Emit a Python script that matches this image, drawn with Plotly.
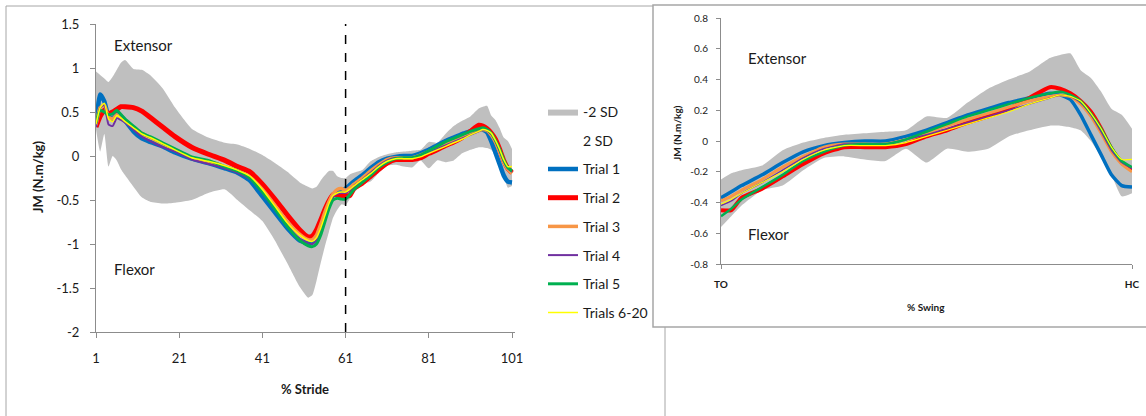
import plotly.graph_objects as go

# ---------------- DATA ----------------
# Stance phase (% stride 1..60)
stance_x = [1, 2, 3, 4, 5, 6, 7, 8, 10, 12, 14, 17, 20, 24, 28, 32, 35, 38, 41, 44, 47, 50, 52, 53, 54, 55, 56, 57, 58, 59, 60]
stance_t1 = [0.33, 0.70, 0.62, 0.45, 0.42, 0.49, 0.45, 0.40, 0.28, 0.20, 0.16, 0.11, 0.04, -0.03, -0.08, -0.14, -0.19, -0.28, -0.46, -0.64, -0.82, -0.96, -0.99, -0.98, -0.92, -0.78, -0.65, -0.53, -0.44, -0.41, -0.40]
stance_t2 = [0.33, 0.45, 0.52, 0.48, 0.50, 0.53, 0.56, 0.56, 0.55, 0.51, 0.44, 0.33, 0.22, 0.10, 0.02, -0.05, -0.12, -0.18, -0.32, -0.49, -0.67, -0.84, -0.92, -0.91, -0.84, -0.73, -0.61, -0.51, -0.44, -0.44, -0.46]
stance_t3 = [0.35, 0.55, 0.58, 0.44, 0.42, 0.47, 0.44, 0.40, 0.32, 0.26, 0.21, 0.14, 0.07, -0.02, -0.06, -0.12, -0.17, -0.24, -0.38, -0.56, -0.75, -0.89, -0.95, -0.95, -0.90, -0.78, -0.64, -0.52, -0.43, -0.38, -0.37]
stance_t4 = [0.33, 0.55, 0.58, 0.36, 0.34, 0.43, 0.41, 0.38, 0.30, 0.22, 0.17, 0.10, 0.05, -0.04, -0.09, -0.14, -0.19, -0.26, -0.42, -0.61, -0.80, -0.94, -0.99, -1.00, -0.96, -0.84, -0.70, -0.56, -0.46, -0.43, -0.42]
stance_t5 = [0.38, 0.52, 0.50, 0.47, 0.48, 0.52, 0.47, 0.42, 0.34, 0.26, 0.22, 0.15, 0.08, -0.01, -0.05, -0.12, -0.17, -0.25, -0.41, -0.60, -0.80, -0.96, -1.02, -1.03, -1.00, -0.90, -0.75, -0.60, -0.50, -0.48, -0.49]
stance_t6 = [0.36, 0.55, 0.60, 0.42, 0.39, 0.46, 0.43, 0.39, 0.32, 0.25, 0.21, 0.14, 0.07, -0.02, -0.06, -0.11, -0.16, -0.23, -0.38, -0.57, -0.76, -0.90, -0.96, -0.97, -0.93, -0.82, -0.68, -0.54, -0.45, -0.42, -0.41]
stance_upper = [0.96, 0.92, 0.88, 0.84, 0.90, 0.98, 1.06, 1.09, 0.99, 0.98, 0.92, 0.77, 0.55, 0.31, 0.21, 0.15, 0.13, 0.08, 0.01, -0.08, -0.18, -0.30, -0.35, -0.37, -0.35, -0.28, -0.22, -0.17, -0.17, -0.23, -0.25]
stance_lower = [0.30, 0.05, 0.25, -0.12, 0.00, -0.05, -0.15, -0.22, -0.35, -0.47, -0.52, -0.54, -0.53, -0.50, -0.42, -0.38, -0.50, -0.62, -0.74, -0.96, -1.22, -1.49, -1.61, -1.58, -1.42, -1.22, -1.03, -0.86, -0.70, -0.61, -0.55]

# Swing phase (% stride 61..101, toe-off to heel contact)
swing_x = [61, 62, 63, 65, 67, 69, 71, 73, 75, 77, 79, 81, 83, 85, 87, 89, 91, 93, 94, 95, 96, 97, 98, 99, 100, 101]
swing_t1 = [-0.37, -0.33, -0.29, -0.22, -0.14, -0.07, -0.03, -0.01, 0.00, 0.00, 0.03, 0.07, 0.12, 0.17, 0.21, 0.25, 0.28, 0.31, 0.30, 0.27, 0.17, 0.04, -0.09, -0.22, -0.29, -0.30]
swing_t2 = [-0.45, -0.45, -0.37, -0.31, -0.23, -0.15, -0.08, -0.04, -0.04, -0.04, -0.02, 0.03, 0.07, 0.12, 0.16, 0.21, 0.28, 0.35, 0.34, 0.31, 0.26, 0.19, 0.08, -0.05, -0.14, -0.19]
swing_t3 = [-0.39, -0.36, -0.32, -0.25, -0.17, -0.10, -0.04, -0.02, -0.02, -0.02, 0.01, 0.05, 0.10, 0.14, 0.18, 0.22, 0.26, 0.29, 0.30, 0.29, 0.24, 0.16, 0.05, -0.07, -0.15, -0.20]
swing_t4 = [-0.42, -0.39, -0.34, -0.27, -0.19, -0.11, -0.05, -0.02, -0.02, -0.02, 0.01, 0.04, 0.08, 0.12, 0.16, 0.20, 0.24, 0.28, 0.30, 0.29, 0.25, 0.17, 0.06, -0.06, -0.14, -0.18]
swing_t5 = [-0.49, -0.44, -0.38, -0.30, -0.22, -0.13, -0.07, -0.03, -0.02, -0.02, 0.01, 0.06, 0.11, 0.16, 0.20, 0.24, 0.28, 0.31, 0.32, 0.30, 0.26, 0.18, 0.08, -0.04, -0.13, -0.17]
swing_t6 = [-0.41, -0.38, -0.34, -0.27, -0.20, -0.12, -0.06, -0.03, -0.03, -0.03, -0.01, 0.03, 0.07, 0.11, 0.15, 0.19, 0.24, 0.28, 0.30, 0.29, 0.26, 0.18, 0.08, -0.04, -0.12, -0.12]
swing_upper = [-0.25, -0.21, -0.19, -0.16, -0.06, -0.01, 0.02, 0.04, 0.05, 0.06, 0.07, 0.16, 0.15, 0.25, 0.34, 0.40, 0.45, 0.54, 0.56, 0.57, 0.46, 0.41, 0.32, 0.21, 0.17, 0.08]
swing_lower = [-0.56, -0.49, -0.42, -0.32, -0.29, -0.19, -0.11, -0.10, -0.12, -0.13, -0.05, -0.14, -0.05, -0.07, -0.05, 0.03, 0.07, 0.10, 0.10, 0.09, 0.07, 0.00, -0.10, -0.22, -0.36, -0.34]

trial_names = ["Trial 1", "Trial 2", "Trial 3", "Trial 4", "Trial 5", "Trials 6-20"]
band_names = ["-2 SD", "2 SD"]
toe_off = 61

left_xticks = [1, 21, 41, 61, 81, 101]
left_yticks = [-2, -1.5, -1, -0.5, 0, 0.5, 1, 1.5]
left_yticktext = ["-2", "-1.5", "-1", "-0.5", "0", "0.5", "1", "1.5"]
right_xticks = [61, 101]
right_xticktext = ["TO", "HC"]
right_yticks = [-0.8, -0.6, -0.4, -0.2, 0, 0.2, 0.4, 0.6, 0.8]
right_yticktext = ["-0.8", "-0.6", "-0.4", "-0.2", "0", "0.2", "0.4", "0.6", "0.8"]

# ---------------- STYLE ----------------
W, H = 1146, 416
FONT = "Lato"
TXT = "#1a1a1a"
AXC = "#8c8c8c"
BAND = "#BFBFBF"
colors = ["#0070C0", "#FF0000", "#F79646", "#7030A0", "#00B050", "#FFFF00"]
widths_left = [4.5, 5, 3.5, 2, 3, 1.5]
widths_right = [3.5, 4, 3, 1.5, 2.5, 1.2]


def pxx(x):
    return x / W


def pyy(y):
    return 1 - y / H


stance_trials = [stance_t1, stance_t2, stance_t3, stance_t4, stance_t5, stance_t6]
swing_trials = [swing_t1, swing_t2, swing_t3, swing_t4, swing_t5, swing_t6]

fig = go.Figure()


def add_set(xvals, lower, upper, trials, xa, ya, widths, show):
    fig.add_trace(go.Scatter(
        x=xvals, y=lower, mode="lines", xaxis=xa, yaxis=ya,
        line=dict(width=0, color="rgba(0,0,0,0)", shape="spline", smoothing=0.5),
        name=band_names[1], legendgroup="b2", legendrank=2, showlegend=show, hoverinfo="skip"))
    fig.add_trace(go.Scatter(
        x=xvals, y=upper, mode="lines", xaxis=xa, yaxis=ya, fill="tonexty", fillcolor=BAND,
        line=dict(width=0, color=BAND, shape="spline", smoothing=0.5),
        name=band_names[0], legendgroup="b1", legendrank=1, showlegend=show, hoverinfo="skip"))
    for i, (nm, ys) in enumerate(zip(trial_names, trials)):
        fig.add_trace(go.Scatter(
            x=xvals, y=ys, mode="lines", xaxis=xa, yaxis=ya,
            line=dict(width=widths[i], color=colors[i], shape="spline", smoothing=0.5),
            name=nm, legendgroup="t%d" % i, legendrank=3 + i, showlegend=show))


# Left chart: whole stride
all_x = stance_x + swing_x
add_set(all_x, stance_lower + swing_lower, stance_upper + swing_upper,
        [a + b for a, b in zip(stance_trials, swing_trials)], "x", "y", widths_left, True)
# Right chart: swing only
add_set(swing_x, swing_lower, swing_upper, swing_trials, "x2", "y2", widths_right, False)

tick_font_l = dict(family=FONT, size=13, color=TXT)
tick_font_r = dict(family=FONT, size=10, color=TXT)

common = dict(ticks="outside", tickcolor=AXC, showline=True, linecolor=AXC, linewidth=1,
              showgrid=False, zeroline=False, automargin=False, tickmode="array")

fig.update_layout(
    width=W, height=H, margin=dict(l=0, r=0, t=0, b=0, autoexpand=False),
    paper_bgcolor="white", plot_bgcolor="rgba(0,0,0,0)",
    font=dict(family=FONT, color=TXT),
    showlegend=True,
    legend=dict(x=pxx(543), y=pyy(96), xanchor="left", yanchor="top",
                traceorder="grouped", tracegroupgap=7.5, itemwidth=30,
                font=dict(family=FONT, size=14, color=TXT), bgcolor="rgba(0,0,0,0)"),
    xaxis=dict(domain=[pxx(96), pxx(515)], range=[1, 101.72], anchor="y",
               tickvals=left_xticks, ticklen=5,
               tickfont=tick_font_l, ticklabelstandoff=9, **common),
    yaxis=dict(domain=[pyy(332), pyy(24)], range=[-2, 1.5], anchor="x",
               tickvals=left_yticks, ticktext=left_yticktext, ticklen=5,
               tickfont=tick_font_l, ticklabelstandoff=8, **common),
    xaxis2=dict(domain=[pxx(721), pxx(1132)], range=[61, 101], anchor="y2",
                tickvals=right_xticks, ticktext=right_xticktext, ticklen=4,
                tickfont=dict(family=FONT, size=10, color=TXT, weight="bold"), ticklabelstandoff=7,
                **common),
    yaxis2=dict(domain=[pyy(264), pyy(18)], range=[-0.8, 0.8], anchor="x2",
                tickvals=right_yticks, ticktext=right_yticktext, ticklen=4,
                tickfont=tick_font_r, ticklabelstandoff=6, **common),
)

shapes = [
    # left chart frame
    dict(type="rect", xref="paper", yref="paper", x0=pxx(6), x1=pxx(665), y0=pyy(430), y1=pyy(6),
         line=dict(color="#a6a6a6", width=1), fillcolor="rgba(0,0,0,0)", layer="below"),
    # inset frame (covers left frame)
    dict(type="rect", xref="paper", yref="paper", x0=pxx(653), x1=pxx(1160), y0=pyy(327), y1=pyy(5),
         line=dict(color="#a6a6a6", width=1.5), fillcolor="white", layer="below"),
    # toe-off dashed line
    dict(type="line", xref="x", yref="y", x0=toe_off, x1=toe_off, y0=-2, y1=1.5,
         line=dict(color="black", width=1.5, dash="dash")),
]
fig.update_layout(shapes=shapes)

ann = []


def txt(x, y, s, size, bold=False, angle=0, xanchor="left"):
    ann.append(dict(xref="paper", yref="paper", x=pxx(x), y=pyy(y), text=s, showarrow=False,
                    xanchor=xanchor, yanchor="middle", textangle=angle,
                    font=dict(family=FONT, size=size, color=TXT, weight="bold" if bold else "normal")))


txt(112, 45, "Extensor", 15)
txt(112, 269, "Flexor", 15)
txt(305, 389, "% Stride", 13, bold=True, xanchor="center")
txt(38, 177, "JM (N.m/kg)", 13, bold=True, angle=-90, xanchor="center")
txt(746, 58, "Extensor", 15)
txt(746, 234, "Flexor", 15)
txt(926, 307, "% Swing", 10, bold=True, xanchor="center")
txt(677, 133, "JM (N.m/kg)", 10, bold=True, angle=-90, xanchor="center")
fig.update_layout(annotations=ann)

fig.write_html("out.html", config={"displayModeBar": False},
               post_script="document.body.style.margin='0';document.body.style.overflow='hidden';")
